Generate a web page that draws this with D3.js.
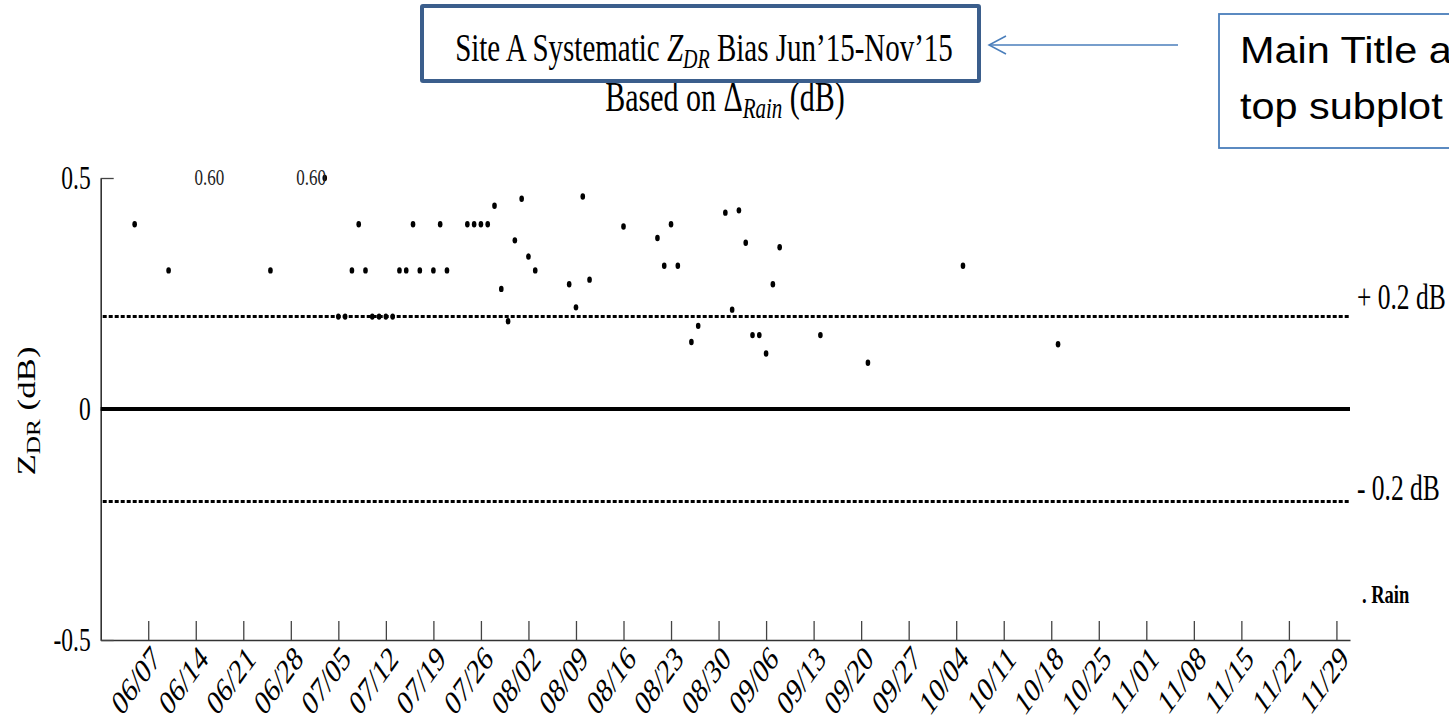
<!DOCTYPE html>
<html><head><meta charset="utf-8">
<script src="https://cdn.jsdelivr.net/npm/d3@7"></script>
<style>html,body{margin:0;padding:0;background:#fff;overflow:hidden}svg{display:block}</style>
</head><body><svg id="c" width="1449" height="726"></svg>
<script>
// ---- data ----
const year = 2015;
const dates = ["06/05","06/10","06/25","07/03","07/05","07/06","07/07","07/08","07/09","07/10",
  "07/11","07/12","07/13","07/14","07/15","07/16","07/17","07/19","07/20","07/21",
  "07/24","07/25","07/26","07/27","07/28","07/29","07/30","07/31","08/01","08/02",
  "08/03","08/08","08/09","08/10","08/11","08/16","08/21","08/22","08/23","08/24",
  "08/26","08/27","08/31","09/01","09/02","09/03","09/04","09/05","09/06","09/07",
  "09/08","09/14","09/21","10/05","10/19"];
const values = [0.40,0.30,0.30,0.50,0.20,0.20,0.30,0.40,0.30,0.20,
  0.20,0.20,0.20,0.30,0.30,0.40,0.30,0.30,0.40,0.30,
  0.40,0.40,0.40,0.40,0.44,0.26,0.19,0.365,0.455,0.33,
  0.30,0.27,0.22,0.46,0.28,0.395,0.37,0.31,0.40,0.31,
  0.145,0.18,0.425,0.215,0.43,0.36,0.16,0.16,0.12,0.27,
  0.35,0.16,0.10,0.31,0.14];
const outlierDates = ["06/16","07/01"];
const outlierLabels = ["0.60","0.60"];
const xDomain = ["05/31","12/01"];
const tickLabels = ["06/07","06/14","06/21","06/28","07/05","07/12","07/19","07/26","08/02","08/09",
  "08/16","08/23","08/30","09/06","09/13","09/20","09/27","10/04","10/11","10/18",
  "10/25","11/01","11/08","11/15","11/22","11/29"];
const yTicks = [-0.5, 0, 0.5];
const yTickLabels = ["-0.5","0","0.5"];
const refLevels = [0.2, -0.2];
const refLabels = ["+ 0.2 dB","- 0.2 dB"];
const titleParts = ["Site A Systematic ", "Z", "DR", " Bias Jun\u201915-Nov\u201915"];
const subtitleParts = ["Based on ", "\u0394", "Rain", " (dB)"];
const yLabelParts = ["Z", "DR", " (dB)"];
const legendLabel = ". Rain";
const calloutLines = ["Main Title and", "top subplot title"];

// ---- setup ----
const parse = s => new Date(Date.UTC(year, +s.slice(0,2)-1, +s.slice(3,5)));
const svg = d3.select("#c");
svg.append("rect").attr("width",1449).attr("height",726).attr("fill","#fff");
const SERIF = "'Liberation Serif','Times New Roman',serif";
const SY = 1.4; // vertical stretch of the original figure

const x = d3.scaleUtc().domain(xDomain.map(parse)).range([100.7, 1350]);
const y = d3.scaleLinear().domain([-0.5, 0.5]).range([640, 178]);

// axes
const gx = svg.append("g").attr("transform", `translate(0,${y(-0.5)})`)
  .call(d3.axisBottom(x).tickValues(tickLabels.map(parse)).tickSizeInner(-19).tickSizeOuter(0).tickFormat(""));
const gy = svg.append("g").attr("transform", `translate(${x.range()[0]},0)`)
  .call(d3.axisLeft(y).tickValues(yTicks).tickSizeInner(-13).tickSizeOuter(0).tickFormat(""));
[gx, gy].forEach(g => {
  g.select(".domain").attr("stroke","#333").attr("stroke-width",1.6);
  g.selectAll(".tick line").attr("stroke","#444").attr("stroke-width",1.3);
});

// x tick labels
svg.append("g").selectAll("text").data(tickLabels).join("text")
  .attr("transform", d => `translate(${x(parse(d))+4},${y(-0.5)+7}) scale(1,${SY}) rotate(-45)`)
  .attr("text-anchor","end").attr("dy","0.55em")
  .attr("font-family",SERIF).attr("font-size",25).attr("fill","#000")
  .text(d => d);

// y tick labels
svg.append("g").selectAll("text").data(yTicks).join("text")
  .attr("transform", d => `translate(${x.range()[0]-10},${y(d)}) scale(1,${SY})`)
  .attr("text-anchor","end").attr("dy","0.34em")
  .attr("font-family",SERIF).attr("font-size",23.5).attr("fill","#000")
  .text((d,i) => yTickLabels[i]);

// zero line
svg.append("line").attr("x1",x.range()[0]).attr("x2",x.range()[1])
  .attr("y1",y(0)).attr("y2",y(0)).attr("stroke","#000").attr("stroke-width",4);

// reference lines
svg.append("g").selectAll("line").data(refLevels).join("line")
  .attr("x1",x.range()[0]+2).attr("x2",x.range()[1])
  .attr("y1",d=>y(d)).attr("y2",d=>y(d))
  .attr("stroke","#000").attr("stroke-width",3).attr("stroke-dasharray","4,2");
svg.append("g").selectAll("text").data(refLevels).join("text")
  .attr("transform", (d,i) => `translate(${x.range()[1]+7},${y(d) + (d>0 ? -8 : -1)}) scale(1,${SY})`)
  .attr("font-family",SERIF).attr("font-size",25.5).attr("fill","#000")
  .text((d,i) => refLabels[i]);

// legend-ish label
svg.append("text")
  .attr("transform", `translate(${x.range()[1]+12},${y(-0.42)}) scale(1,${SY})`)
  .attr("font-family",SERIF).attr("font-size",18.5).attr("font-weight","bold").attr("fill","#000")
  .text(legendLabel);

// points
svg.append("g").selectAll("ellipse").data(dates).join("ellipse")
  .attr("cx", d => x(parse(d)))
  .attr("cy", (d,i) => y(values[i]))
  .attr("rx", 2.3).attr("ry", 3.2).attr("fill","#000");

// outlier annotations
svg.append("g").selectAll("text").data(outlierDates).join("text")
  .attr("transform", d => `translate(${x(parse(d))},${y(0.5)+7}) scale(1,${SY})`)
  .attr("text-anchor","middle")
  .attr("font-family",SERIF).attr("font-size",17).attr("fill","#222")
  .text((d,i) => outlierLabels[i]);

// y label
const yl = svg.append("text")
  .attr("transform", `translate(35,${y(0)+2}) scale(1,${SY}) rotate(-90)`)
  .attr("text-anchor","middle")
  .attr("font-family",SERIF).attr("font-size",25).attr("fill","#000");
yl.append("tspan").text(yLabelParts[0]);
yl.append("tspan").attr("font-size",18).attr("dy",5).text(yLabelParts[1]);
yl.append("tspan").attr("dy",-5).text(yLabelParts[2]);

// title
const t = svg.append("text")
  .attr("transform", `translate(704,61) scale(1,${SY})`)
  .attr("text-anchor","middle")
  .attr("font-family",SERIF).attr("font-size",29).attr("fill","#000");
t.append("tspan").text(titleParts[0]);
t.append("tspan").attr("font-style","italic").text(titleParts[1]);
t.append("tspan").attr("font-style","italic").attr("font-size",20).attr("dy",5).text(titleParts[2]);
t.append("tspan").attr("dy",-5).text(titleParts[3]);

const st = svg.append("text")
  .attr("transform", `translate(725,111) scale(1,${SY})`)
  .attr("text-anchor","middle")
  .attr("font-family",SERIF).attr("font-size",30).attr("fill","#000");
st.append("tspan").text(subtitleParts[0]);
st.append("tspan").text(subtitleParts[1]);
st.append("tspan").attr("font-style","italic").attr("font-size",21).attr("dy",5).text(subtitleParts[2]);
st.append("tspan").attr("dy",-5).text(subtitleParts[3]);

// title box
svg.append("rect").attr("x",422).attr("y",6).attr("width",557).attr("height",75)
  .attr("fill","none").attr("stroke","#3B5E8C").attr("stroke-width",4).attr("rx",1);

// arrow
svg.append("line").attr("x1",1178).attr("y1",45).attr("x2",989).attr("y2",45)
  .attr("stroke","#4A7EBB").attr("stroke-width",1.5);
svg.append("path").attr("d","M1006,36 L989,45 L1006,54")
  .attr("fill","none").attr("stroke","#4A7EBB").attr("stroke-width",1.5);

// callout box (its text runs off the right edge, as in the reference)
svg.append("rect").attr("x",1219).attr("y",14).attr("width",260).attr("height",134)
  .attr("fill","#fff").attr("stroke","#4A7EBB").attr("stroke-width",1.8);
svg.append("g").selectAll("text").data(calloutLines).join("text")
  .attr("transform",(d,i)=>`translate(1240,${63+i*56}) scale(1.12,1)`)
  .attr("font-family","'Liberation Sans','Noto Sans',sans-serif").attr("font-size",37).attr("fill","#000")
  .text(d=>d);
</script></body></html>
